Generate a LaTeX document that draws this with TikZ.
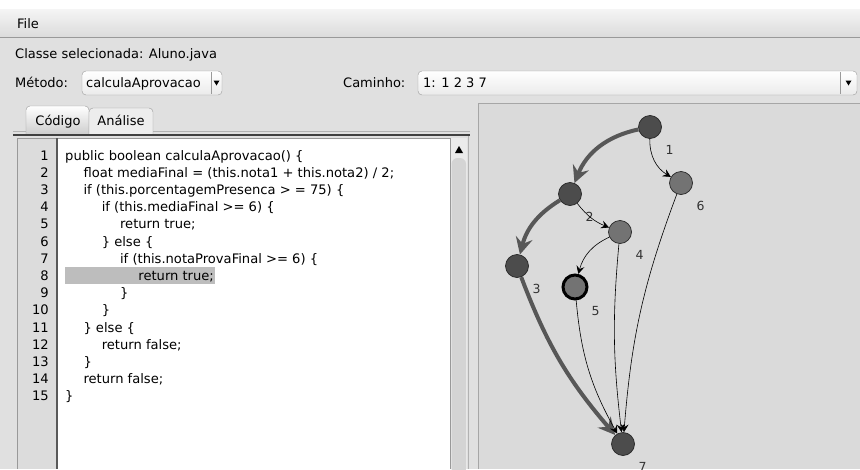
\documentclass[tikz,border=0pt]{standalone}
\usepackage{fontspec}
\setmainfont{DejaVu Sans}
\usetikzlibrary{arrows.meta}

\definecolor{winbg}{HTML}{E0E0E0}
\definecolor{panelbg}{HTML}{DADADA}
\definecolor{gutterbg}{HTML}{DCDCDC}
\definecolor{framegray}{HTML}{9A9A9A}
\definecolor{hilite}{HTML}{BDBDBD}
\definecolor{pathgray}{HTML}{4C4C4C}
\definecolor{nodegray}{HTML}{737373}
\definecolor{edgegray}{HTML}{575757}

\begin{document}
\begin{tikzpicture}[x=1pt, y=-1pt,
    uitext/.style={font=\fontsize{13}{15}\selectfont, inner sep=0pt, anchor=base west},
    codetext/.style={font=\fontsize{13.1}{15}\selectfont, inner sep=0pt, anchor=base west},
    numtext/.style={font=\fontsize{13.1}{15}\selectfont, inner sep=0pt, anchor=base east},
    combo/.style={draw=framegray, rounded corners=4pt, top color=white, bottom color=black!8},
    vtx/.style={circle, draw=black!85, line width=0.7pt, minimum size=23pt, inner sep=0pt,
      label={[font=\fontsize{12.5}{14}\selectfont, text=black!80, label distance=7pt]-50:#1}},
    onpath/.style={vtx=#1, fill=pathgray},
    offpath/.style={vtx=#1, fill=nodegray},
    pathedge/.style={draw=edgegray, line width=4pt, -{Stealth[length=17pt, width=17pt, inset=6pt]}},
    plainedge/.style={draw=black, line width=0.6pt, -{Stealth[length=8pt, width=8pt, inset=3pt]}},
  ]
  \useasboundingbox (0,0) rectangle (860,469);

  % window and menu bar
  \fill[winbg] (0,0) rectangle (860,469);
  \fill[white] (0,0) rectangle (860,9);
  \shade[top color=black!4, bottom color=black!14] (0,9) rectangle (860,37);
  \draw[black!40] (0,37) -- (860,37);
  \node[uitext] (file) at (17,28) {File};

  % header fields
  \node[uitext] (classe) at (15,58) {Classe selecionada: Aluno.java};
  \node[uitext] (metodo) at (15,87) {Método:};
  \path[combo] (82,71) rectangle (222,95);
  \draw[framegray] (211,72) -- (211,94);
  \fill (213.5,80.5) -- (219.5,80.5) -- (216.5,85.5) -- cycle;
  \node[uitext] (metval) at (86,87) {calculaAprovacao};
  \node[uitext] (caminho) at (343,87) {Caminho:};
  \path[combo] (418,71) rectangle (857,95);
  \draw[framegray] (840,72) -- (840,94);
  \fill (845.5,80.5) -- (851.5,80.5) -- (848.5,85.5) -- cycle;
  \node[uitext] (camval) at (423,87) {1: 1 2 3 7};

  % tabs
  \path[draw=framegray, top color=white, bottom color=black!20, rounded corners=4pt]
    (26,135) -- (26,106) -- (89,106) -- (89,135);
  \path[draw=framegray, fill=black!7, rounded corners=4pt]
    (89,135) -- (89,108) -- (153,108) -- (153,135);
  \node[uitext, anchor=base] (tabcod) at (58,125) {Código};
  \node[uitext, anchor=base] (tabana) at (121,125) {Análise};
  \draw[black!30] (13,131) -- (26,131) (153,131) -- (470,131);
  \draw[black!75, line width=1.2pt] (13,135) -- (470,135);

  % code area
  \fill[gutterbg] (17,138) rectangle (57,469);
  \fill[white] (58,138) rectangle (450,469);
  \draw[black!40] (17,469) -- (17,138) -- (467,138);
  \draw[black!65, line width=1.5pt] (57,138) -- (57,469);
  \fill[black!8] (450,138) rectangle (467,469);
  \fill[black!17, rounded corners=6pt] (451.5,158) rectangle (466,475);
  \draw[black!40] (450,138) -- (450,469);
  \fill (455,153) -- (463,153) -- (459,146) -- cycle;
  \draw[black!30] (468,136) -- (468,469);
  \fill[hilite] (65,267) rectangle (215,284);

  \foreach \i in {1,...,15}
    \node[numtext] (num\i) at (49,{160+(\i-1)*17.2}) {\i};

  \node[codetext] (c1) at (65,160.0) {public boolean calculaAprovacao() \{};
  \node[codetext] (c2) at (83.3,177.2) {float mediaFinal = (this.nota1 + this.nota2) / 2;};
  \node[codetext] (c3) at (83.3,194.4) {if (this.porcentagemPresenca > = 75) \{};
  \node[codetext] (c4) at (101.6,211.6) {if (this.mediaFinal >= 6) \{};
  \node[codetext] (c5) at (119.9,228.8) {return true;};
  \node[codetext] (c6) at (101.6,246.0) {\} else \{};
  \node[codetext] (c7) at (119.9,263.2) {if (this.notaProvaFinal >= 6) \{};
  \node[codetext] (c8) at (138.2,280.4) {return true;};
  \node[codetext] (c9) at (119.9,297.6) {\}};
  \node[codetext] (c10) at (101.6,314.8) {\}};
  \node[codetext] (c11) at (83.3,332.0) {\} else \{};
  \node[codetext] (c12) at (101.6,349.2) {return false;};
  \node[codetext] (c13) at (83.3,366.4) {\}};
  \node[codetext] (c14) at (83.3,383.6) {return false;};
  \node[codetext] (c15) at (65,400.8) {\}};

  % graph panel
  \fill[panelbg] (478,103) rectangle (860,469);
  \draw[black!35] (478,469) -- (478,103) -- (860,103);

  \node[onpath=1] at (650,127) (n1) {};
  \node[offpath=6] at (681,183) (n6) {};
  \node[onpath=2] at (570,194) (n2) {};
  \node[offpath=4] at (620,232) (n4) {};
  \node[onpath=3] at (517,266) (n3) {};
  \node[offpath=5, draw=black, line width=3pt, minimum size=24pt] at (575,287) (n5) {};
  \node[onpath=7] at (623,444) (n7) {};

  \draw[pathedge] (n1) to[bend right=28] (n2);
  \draw[pathedge] (n2) to[bend right=22] (n3);
  \draw[pathedge] (n3) to[bend right=10] (n7);
  \draw[plainedge] (n1) to[bend right=30] (n6);
  \draw[plainedge] (n2) to[bend right=15] (n4);
  \draw[plainedge] (n4) to[bend right=25] (n5);
  \draw[plainedge] (n5) to[bend right=12] (n7);
  \draw[plainedge] (n4) to[bend right=6] (n7);
  \draw[plainedge] (n6) to[bend right=8] (n7);
\end{tikzpicture}
\end{document}
